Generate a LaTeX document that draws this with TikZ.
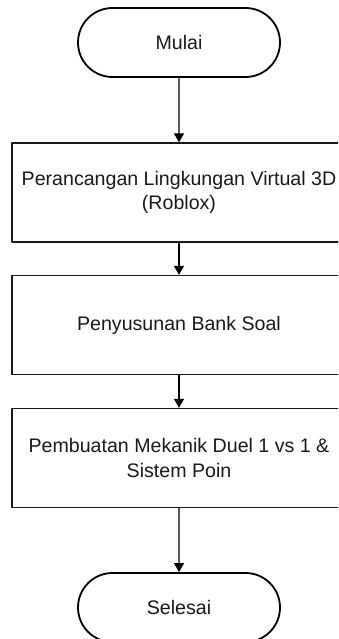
\documentclass[tikz,border=0pt]{standalone}
\usepackage{fontspec}
\setmainfont{Liberation Sans}
\usepackage{pgf,tikz}
\usetikzlibrary{arrows.meta,shapes.misc}

\begin{document}
\begin{tikzpicture}[line cap=round,line join=round,>={Triangle[length=9pt,width=10pt]},x=1pt,y=-1pt,
  terminal/.style={draw=black,line width=1.8pt,rounded rectangle,minimum width=202pt,minimum height=69pt,inner sep=0pt,font=\fontsize{19.6}{24.5}\selectfont,text=black!90},
  process/.style={draw=black!90,line width=1.3pt,rectangle,minimum width=334pt,minimum height=99pt,inner sep=0pt,align=center,font=\fontsize{19.6}{24.5}\selectfont,text=black!90},
  flow/.style={->,line width=1.3pt}]
\useasboundingbox (0,0) rectangle (338,639);
\clip (0,0) rectangle (338,639);
\node[terminal] (mulai) at (179,42.5) {Mulai};
\node[process] (rancang) at (179,192.5) {Perancangan Lingkungan Virtual 3D\\(Roblox)};
\node[process] (soal) at (179,325) {Penyusunan Bank Soal};
\node[process] (duel) at (179,458) {Pembuatan Mekanik Duel 1 vs 1 \&\\Sistem Poin};
\node[terminal] (selesai) at (179,607.5) {Selesai};
\draw[flow] (mulai) -- (rancang);
\draw[flow] (rancang) -- (soal);
\draw[flow] (soal) -- (duel);
\draw[flow] (duel) -- (selesai);

\end{tikzpicture}
\end{document}
